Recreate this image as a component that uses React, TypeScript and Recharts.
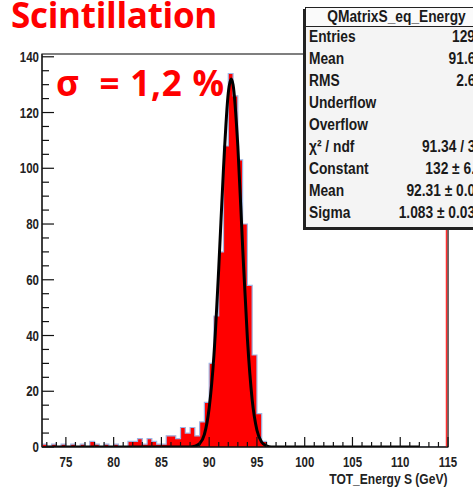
import { Area, ComposedChart, Line, ReferenceArea, ReferenceLine, XAxis, YAxis } from 'recharts';

// Histogram: 0.5 GeV bins starting at 72.5 GeV
const BIN_START = 72.5;
const BIN_WIDTH = 0.5;
const binCounts = [
  1, 0, 1, 0, 1, 0, 1, 0, 1, 0, 2, 1, 0, 1, 0, 1, 0, 0, 2, 2, 3, 1, 3, 2, 1,
  1, 4, 4, 3, 7, 5, 7, 4, 9, 16, 30, 47, 70, 108, 134, 126, 103, 80, 58, 33, 12, 2,
  0, 0, 0, 0, 0, 0, 0, 0, 0, 0, 0, 0, 0, 0, 0, 0, 0, 0, 0, 0, 0, 0, 0, 0, 0, 0,
  0, 0, 0, 0, 0, 0, 0, 0, 0, 0, 0, 0, 0, 0,
];

// Gaussian fit curve
const fitEnergy = [73, 88, 88.5, 89, 89.5, 90, 90.5, 91, 91.5, 92, 92.3, 92.5, 93, 93.5, 94, 94.5, 95, 95.5, 96, 96.5, 112];
const fitValue = [0, 0, 0.3, 1.2, 4.5, 14, 33, 64, 100, 127, 132, 130, 108, 72, 39, 17, 6, 1.7, 0.4, 0, 0];

const xTicks = [
  73, 74, 75, 76, 77, 78, 79, 80, 81, 82, 83, 84, 85, 86, 87, 88, 89, 90, 91, 92, 93, 94,
  95, 96, 97, 98, 99, 100, 101, 102, 103, 104, 105, 106, 107, 108, 109, 110, 111, 112, 113, 114, 115,
];
const xMajor = [75, 80, 85, 90, 95, 100, 105, 110, 115];
const yTicks = [0, 5, 10, 15, 20, 25, 30, 35, 40, 45, 50, 55, 60, 65, 70, 75, 80, 85, 90, 95, 100, 105, 110, 115, 120, 125, 130, 135, 140];
const yMajor = [0, 20, 40, 60, 80, 100, 120, 140];

const statsRows = [
  ['Entries', '1298'],
  ['Mean', '91.67'],
  ['RMS', '2.68'],
  ['Underflow', '0'],
  ['Overflow', '0'],
  ['χ² / ndf', '91.34 / 37'],
  ['Constant', '132 ± 6.4'],
  ['Mean', '92.31 ± 0.05'],
  ['Sigma', '1.083 ± 0.034'],
];

const histData = [
  ...binCounts.map((c, i) => ({ x: BIN_START + i * BIN_WIDTH, h: c })),
  { x: 115, h: binCounts[binCounts.length - 1] },
];
const fitData = fitEnergy.map((x, i) => ({ x, f: fitValue[i] }));

const sans = '"Liberation Sans", Arial, sans-serif';
const squeeze = 0.82;

const XTick = (props: any) => {
  const { x, y, payload } = props;
  const major = xMajor.includes(payload.value);
  return (
    <g>
      <line x1={x} x2={x} y1={y} y2={y - (major ? 10 : 5)} stroke="#111" strokeWidth={1.2} />
      {major && (
        <text
          transform={`translate(${x},${y + 20}) scale(${squeeze},1)`}
          textAnchor="middle"
          fontFamily={sans}
          fontWeight="bold"
          fontSize={14}
          fill="#222"
        >
          {payload.value}
        </text>
      )}
    </g>
  );
};

const YTick = (props: any) => {
  const { x, y, payload } = props;
  const major = yMajor.includes(payload.value);
  return (
    <g>
      <line x1={x} x2={x + (major ? 12 : 7)} y1={y} y2={y} stroke="#111" strokeWidth={1.2} />
      {major && (
        <text
          transform={`translate(${x - 3},${y + 5}) scale(${squeeze},1)`}
          textAnchor="end"
          fontFamily={sans}
          fontWeight="bold"
          fontSize={14}
          fill="#222"
        >
          {payload.value}
        </text>
      )}
    </g>
  );
};

const RedEdge = (props: any) => (
  <line x1={props.x1 - 1.5} x2={props.x2 - 1.5} y1={props.y1} y2={props.y2} stroke="#ff3030" strokeWidth={1.5} />
);

const narrowLeft = { display: 'inline-block', transform: 'scaleX(0.86)', transformOrigin: 'left center', whiteSpace: 'nowrap' as const };
const narrowRight = { ...narrowLeft, transformOrigin: 'right center' };

export default function App() {
  return (
    <div style={{ position: 'absolute', left: 0, top: 0, width: 473, height: 489, overflow: 'hidden', background: '#fff' }}>
      <ComposedChart width={473} height={489} margin={{ top: 54, right: 25, bottom: 0, left: 0 }}>
        <XAxis
          type="number"
          dataKey="x"
          domain={[72.5, 115]}
          ticks={xTicks}
          interval={0}
          height={42}
          tickSize={0}
          tickMargin={0}
          tick={<XTick />}
          axisLine={{ stroke: '#111' }}
          allowDataOverflow
        />
        <YAxis
          type="number"
          domain={[0, 141]}
          ticks={yTicks}
          interval={0}
          width={42}
          tickSize={0}
          tickMargin={0}
          tick={<YTick />}
          axisLine={{ stroke: '#333', strokeWidth: 1.5 }}
          allowDataOverflow
        />
        <Area
          data={histData}
          dataKey="h"
          type="stepAfter"
          fill="#ff0000"
          fillOpacity={1}
          stroke="#9fb6e4"
          strokeWidth={1.2}
          isAnimationActive={false}
        />
        <ReferenceLine x={115} shape={<RedEdge />} />
        <Line
          data={fitData}
          dataKey="f"
          type="monotone"
          stroke="#000"
          strokeWidth={3}
          dot={false}
          isAnimationActive={false}
        />
        <ReferenceArea x1={72.5} x2={115} y1={0} y2={141} fill="none" stroke="#000" strokeWidth={1.2} />
      </ComposedChart>

      <div
        style={{
          position: 'absolute', left: 11, top: 0, fontFamily: '"Open Sans", sans-serif', fontWeight: 'bold',
          fontSize: 35, lineHeight: '29px', color: '#ff0000', letterSpacing: -0.3, whiteSpace: 'nowrap',
        }}
      >
        Scintillation
      </div>
      <div
        style={{
          position: 'absolute', left: 56, top: 65, fontFamily: '"Open Sans", sans-serif', fontWeight: 'bold',
          fontSize: 35, lineHeight: '35px', color: '#ff0000', letterSpacing: 0.8, whiteSpace: 'pre',
        }}
      >
        {'σ  = 1,2 %'}
      </div>
      <div
        style={{
          position: 'absolute', left: 300, top: 471, width: 147, textAlign: 'right', fontFamily: sans,
          fontWeight: 'bold', fontSize: 14, color: '#222',
        }}
      >
        <span style={narrowRight}>TOT_Energy S (GeV)</span>
      </div>

      <div
        style={{
          position: 'absolute', left: 305, top: 7, width: 180, height: 219, background: '#f4f4f4',
          border: '1px solid #222', boxShadow: '-2px 2px 0 #222', fontFamily: sans, fontWeight: 'bold',
          fontSize: 16, color: '#1a1a1a',
        }}
      >
        <div style={{ height: 18, lineHeight: '18px', textAlign: 'center', borderBottom: '1px solid #222', background: '#fafafa' }}>
          <span style={{ ...narrowLeft, transformOrigin: 'center center' }}>QMatrixS_eq_Energy</span>
        </div>
        {statsRows.map(([label, value], i) => (
          <div key={i} style={{ position: 'absolute', left: 3, right: 3, top: 18 + i * 22, height: 22, lineHeight: '22px' }}>
            <span style={narrowLeft}>{label}</span>
            <span style={{ position: 'absolute', right: 0 }}>
              <span style={narrowRight}>{value}</span>
            </span>
          </div>
        ))}
      </div>
    </div>
  );
}
